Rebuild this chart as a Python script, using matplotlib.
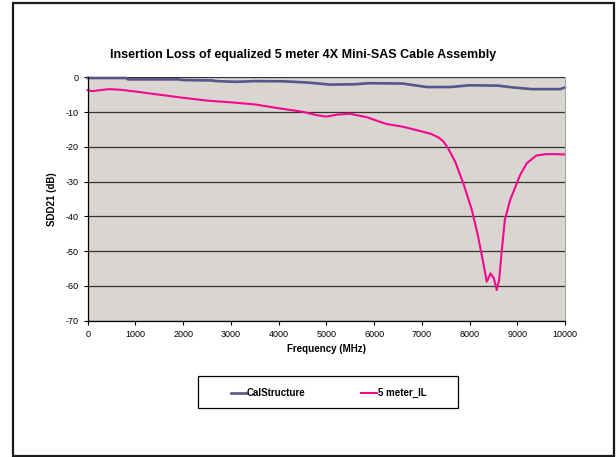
import matplotlib
matplotlib.use("Agg")
import matplotlib.pyplot as plt
from matplotlib.patches import Rectangle

plt.rcParams['font.family'] = ['Liberation Sans', 'DejaVu Sans']
plt.rcParams['axes.unicode_minus'] = False

title = "Insertion Loss of equalized 5 meter 4X Mini-SAS Cable Assembly"
xlabel = "Frequency (MHz)"
ylabel = "SDD21 (dB)"
x_ticks = [0, 1000, 2000, 3000, 4000, 5000, 6000, 7000, 8000, 9000, 10000]
y_ticks = [0, -10, -20, -30, -40, -50, -60, -70]

cal_name = "CalStructure"
cal_f = [0, 800, 850, 1900, 2000, 2600, 2700, 3100, 3500, 4100, 4600, 5000, 5100,
         5600, 5900, 6600, 7100, 7600, 8000, 8600, 8900, 9300, 9900, 10000]
cal_db = [-0.2, -0.2, -0.6, -0.6, -0.8, -0.9, -1.1, -1.3, -1.1, -1.15, -1.5, -2.0, -2.1,
          -2.0, -1.7, -1.8, -2.8, -2.8, -2.3, -2.4, -2.9, -3.4, -3.4, -2.9]

il_name = "5 meter_IL"
il_f = [0, 100, 200, 450, 700, 1000, 1500, 2000, 2500, 3000, 3500, 4000, 4500, 4800,
        5000, 5250, 5500, 5850, 6250, 6600, 6950, 7200, 7350, 7450, 7550, 7700, 7870, 8050,
        8180, 8290, 8360, 8440, 8510, 8570, 8620, 8670, 8740, 8850, 8990, 9060, 9200,
        9400, 9600, 9800, 10000]
il_db = [-3.7, -4.0, -3.8, -3.4, -3.6, -4.1, -5.0, -5.9, -6.7, -7.2, -7.8, -8.9, -9.9, -10.9,
         -11.3, -10.7, -10.5, -11.5, -13.4, -14.2, -15.4, -16.3, -17.3, -18.4, -20.4, -24.3, -30.5, -38.2,
         -45.8, -53.5, -58.8, -56.4, -57.8, -61.2, -58.3, -50.6, -41.0, -35.3, -30.5, -28.1, -24.7,
         -22.5, -22.1, -22.1, -22.2]

W, H = 616, 457
fig = plt.figure(figsize=(W / 100, H / 100), dpi=100)
fig.patch.set_facecolor('white')

# outer frame
fig.patches.append(Rectangle((12.5 / W, 1.5 / H), (614 - 12.5) / W, (454 - 1.5) / H,
                             transform=fig.transFigure, fill=False,
                             edgecolor='#1a1a1a', linewidth=1.6))

ax = fig.add_axes([87.7 / W, 1 - 320.7 / H, (565 - 87.7) / W, (320.7 - 77.3) / H])
ax.set_facecolor('#d9d5d1')

l1, = ax.plot(cal_f, cal_db, color='#56568a', linewidth=1.9, label=cal_name,
              clip_on=False, solid_joinstyle='miter')
l2, = ax.plot(il_f, il_db, color='#f5088e', linewidth=1.5, label=il_name,
              clip_on=False)

ax.set_xlim(0, 10000)
ax.set_ylim(-70, 0)
ax.set_xticks(x_ticks)
ax.set_yticks(y_ticks)
ax.tick_params(axis='both', direction='out', length=3, width=0.8, labelsize=6.5,
               colors='black')
ax.tick_params(axis='x', pad=4)
ax.tick_params(axis='y', pad=3.5)

ax.yaxis.grid(True, color='#333333', linewidth=0.9)
ax.set_axisbelow(True)
ax.spines['top'].set_visible(False)
ax.spines['right'].set_color('#a8a8a8')
ax.spines['left'].set_linewidth(0.9)
ax.spines['bottom'].set_linewidth(0.9)

ax.set_xlabel(xlabel, fontsize=7, fontweight='bold', labelpad=3)
ax.set_ylabel(ylabel, fontsize=7, fontweight='bold', labelpad=6)

fig.text(303.5 / W, 1 - 55 / H, title, ha='center', va='center', fontsize=9,
         fontweight='bold')

# legend
fig.patches.append(Rectangle((197.7 / W, 1 - 408 / H), (458 - 197.7) / W, 32 / H,
                             transform=fig.transFigure, fill=False,
                             edgecolor='black', linewidth=0.9))
fig.legend(handles=[l1, l2], loc='center', bbox_to_anchor=(328.5 / W, 1 - 393 / H),
           ncol=2, frameon=False, columnspacing=5.7, handlelength=1.6,
           handletextpad=0.1, prop={'size': 7, 'weight': 'bold'})

fig.savefig('out.png', dpi=100)
